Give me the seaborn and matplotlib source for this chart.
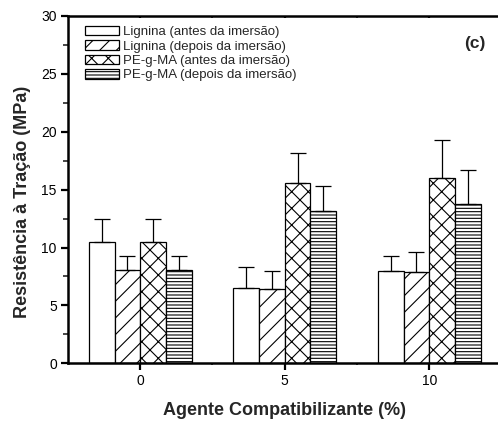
import matplotlib
matplotlib.use("Agg")
import matplotlib.pyplot as plt
import seaborn as sns
import pandas as pd
from matplotlib.patches import Patch
from matplotlib.ticker import MultipleLocator

# Data: tensile strength (MPa) by compatibilizer content
categories = ["0", "5", "10"]
series = [
    "Lignina (antes da imersão)",
    "Lignina (depois da imersão)",
    "PE-g-MA (antes da imersão)",
    "PE-g-MA (depois da imersão)",
]
lignina_antes = [10.5, 6.5, 8.0]
lignina_depois = [8.1, 6.45, 7.9]
pegma_antes = [10.5, 15.6, 16.0]
pegma_depois = [8.1, 13.2, 13.75]

err_lignina_antes = [1.95, 1.8, 1.3]
err_lignina_depois = [1.2, 1.55, 1.7]
err_pegma_antes = [1.95, 2.6, 3.3]
err_pegma_depois = [1.2, 2.1, 2.95]

means = [lignina_antes, lignina_depois, pegma_antes, pegma_depois]
errors = [err_lignina_antes, err_lignina_depois, err_pegma_antes, err_pegma_depois]
hatches = ["", "//", "xx", "-----"]

rows = []
for s, vals in zip(series, means):
    for c, v in zip(categories, vals):
        rows.append({"Agente": c, "Serie": s, "Valor": v})
df = pd.DataFrame(rows)

sns.set_style("ticks")
plt.rcParams["font.family"] = ["Liberation Sans", "DejaVu Sans"]
plt.rcParams["hatch.linewidth"] = 0.8

fig = plt.figure(figsize=(4.98, 4.21), dpi=100)
ax = fig.add_axes([0.1365, 0.137, 0.8705, 0.825])

sns.barplot(data=df, x="Agente", y="Valor", hue="Serie", order=categories,
            hue_order=series, errorbar=None, width=0.71, ax=ax,
            palette=["white"] * 4, edgecolor="black", linewidth=0.9,
            legend=False)

bars = ax.patches
n = len(categories)
for i, (h, errs) in enumerate(zip(hatches, errors)):
    for j in range(n):
        bar = bars[i * n + j]
        bar.set_hatch(h)
        bar.set_facecolor("white")
        bar.set_edgecolor("black")
        xc = bar.get_x() + bar.get_width() / 2
        top = bar.get_height()
        ax.errorbar(xc, top, yerr=[[0], [errs[j]]], fmt="none",
                    ecolor="black", elinewidth=0.9, capsize=5.5,
                    capthick=0.9, zorder=1)

ax.set_ylim(0, 30)
ax.set_xlim(-0.5, 2.5)
ax.yaxis.set_major_locator(MultipleLocator(5))
ax.yaxis.set_minor_locator(MultipleLocator(2.5))
ax.set_xticks(range(n))
ax.set_xticks([0.5, 1.5], minor=True)
ax.set_xticklabels(categories)

for sp in ax.spines.values():
    sp.set_linewidth(1.8)
    sp.set_color("black")

ax.tick_params(axis="both", which="major", labelsize=10, width=1.6,
               length=5, direction="out", colors="black", pad=3)
ax.tick_params(axis="y", which="minor", width=1.2, length=3.5,
               direction="out")
ax.tick_params(axis="x", which="minor", width=1.2, length=1.5,
               direction="out")
ax.tick_params(axis="x", which="both", top=True, labeltop=False)
for t in ax.xaxis.get_major_ticks() + ax.xaxis.get_minor_ticks():
    t.tick2line.set_marker(3)
    t.tick2line.set_markersize(1.5)

ax.set_xlabel("Agente Compatibilizante (%)", fontsize=13,
              fontweight="bold", labelpad=10)
ax.set_ylabel("Resistência à Tração (MPa)", fontsize=13,
              fontweight="bold")
ax.yaxis.set_label_coords(-0.085, 0.466)

handles = [Patch(facecolor="white", edgecolor="black", hatch=h,
                 linewidth=0.9) for h in hatches]
ax.legend(handles, series, loc="upper left",
          bbox_to_anchor=(0.039, 0.972), frameon=False, fontsize=9.5,
          handlelength=2.6, handleheight=0.75, labelspacing=0.15,
          handletextpad=0.3, borderpad=0, borderaxespad=0)

ax.text(0.939, 0.922, "(c)", transform=ax.transAxes, fontsize=12.5,
        fontweight="bold", ha="center", va="center")

fig.savefig("out.png", dpi=100)
